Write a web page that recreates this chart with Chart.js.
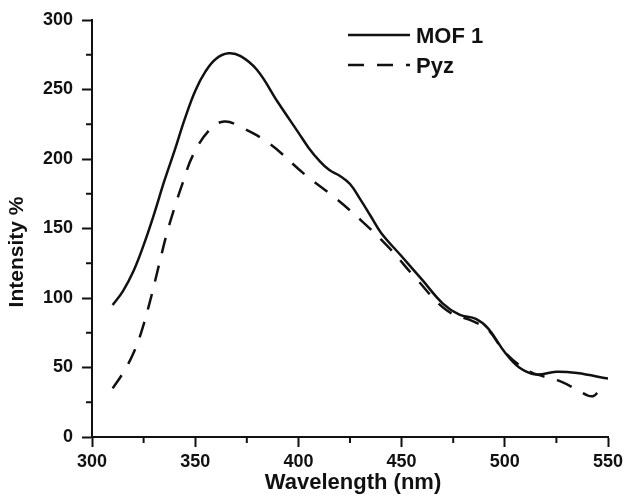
<!DOCTYPE html>
<html>
<head>
<meta charset="utf-8">
<script src="https://cdn.jsdelivr.net/npm/chart.js@4.4.1/dist/chart.umd.min.js"></script>
<style>
  html, body { margin: 0; padding: 0; background: #fff; }
</style>
</head>
<body>
<canvas id="myChart" width="630" height="502"></canvas>
<script>
// values (wavelength in nm, intensity in %)
const seriesNames = ['MOF 1', 'Pyz'];
const mofWave = [310, 315, 320, 325, 330, 335, 340, 345, 350, 355, 360, 366, 372, 380, 390, 400, 405, 410, 415, 420, 425, 430, 435, 440, 450, 460, 470, 478, 486, 492, 500, 507, 515, 525, 535, 550];
const mofIntensity = [95, 105, 119, 138, 160, 184, 206, 229, 249, 263, 272, 276, 274, 264, 241, 219, 208, 199, 192, 188, 182, 171, 159, 147, 130, 113, 96, 88, 85, 78, 61, 50, 45, 47, 46, 42];
const pyzWave = [310, 315, 320, 324, 328, 332, 336, 340, 344, 349, 357, 364, 372, 386, 403, 417, 431, 444, 457, 472, 485, 492, 500, 511, 520, 527, 535, 540, 543, 545];
const pyzIntensity = [35, 46, 60, 76, 97, 121, 145, 165, 183, 203, 221, 227, 223, 211, 189, 173, 155, 136, 114, 91, 83, 77, 61, 48, 43, 40, 34, 30, 29.5, 32];
const xTicks = [300, 350, 400, 450, 500, 550];
const yTicks = [0, 50, 100, 150, 200, 250, 300];
const xMinor = [325, 375, 425, 475, 525];
const yMinor = [25, 75, 125, 175, 225, 275];

const ink = '#111';
const dash = [16, 13];

function toPoints(xs, ys) {
    return xs.map((x, i) => ({ x: x, y: ys[i] }));
}

// short minor ticks, axis titles and the legend in the top right
const extras = {
    id: 'extras',
    afterDraw(chart) {
        const c = chart.ctx;
        const xs = chart.scales.x;
        const ys = chart.scales.y;
        const area = chart.chartArea;
        c.save();
        c.strokeStyle = ink;
        c.lineWidth = 2;
        xMinor.forEach(v => {
            const px = xs.getPixelForValue(v);
            c.beginPath(); c.moveTo(px, area.bottom); c.lineTo(px, area.bottom + 6); c.stroke();
        });
        yMinor.forEach(v => {
            const py = ys.getPixelForValue(v);
            c.beginPath(); c.moveTo(area.left - 6, py); c.lineTo(area.left, py); c.stroke();
        });

        c.fillStyle = ink;
        c.font = 'bold 22px "Liberation Sans", Arial, sans-serif';
        c.textAlign = 'center';
        c.textBaseline = 'alphabetic';
        c.fillText('Wavelength (nm)', 353, 489);

        c.save();
        c.translate(23, 252);
        c.rotate(-Math.PI / 2);
        c.font = 'bold 21px "Liberation Sans", Arial, sans-serif';
        c.fillText('Intensity %', 0, 0);
        c.restore();

        // legend
        c.font = 'bold 22px "Liberation Sans", Arial, sans-serif';
        c.textAlign = 'left';
        chart.data.datasets.forEach((ds, i) => {
            const ly = 35 + i * 30;
            c.lineWidth = ds.borderWidth;
            c.setLineDash(ds.borderDash || []);
            c.beginPath(); c.moveTo(348, ly); c.lineTo(410, ly); c.stroke();
            c.setLineDash([]);
            c.fillText(ds.label, 416, ly + 8);
        });
        c.restore();
    }
};

const chart = new Chart(document.getElementById('myChart'), {
    type: 'line',
    data: {
        datasets: [
            {
                label: seriesNames[0],
                data: toPoints(mofWave, mofIntensity),
                borderColor: ink,
                borderWidth: 2.5,
                pointRadius: 0,
                tension: 0.4,
                fill: false
            },
            {
                label: seriesNames[1],
                data: toPoints(pyzWave, pyzIntensity),
                borderColor: ink,
                borderWidth: 2.5,
                borderDash: dash,
                pointRadius: 0,
                tension: 0.4,
                fill: false
            }
        ]
    },
    options: {
        responsive: false,
        animation: false,
        layout: { padding: { top: 20, right: 22, left: 0, bottom: 0 } },
        plugins: {
            legend: { display: false },
            tooltip: { enabled: false }
        },
        scales: {
            x: {
                type: 'linear',
                min: 300,
                max: 550,
                afterFit: scale => { scale.height = 65; },
                afterBuildTicks: scale => { scale.ticks = xTicks.map(v => ({ value: v })); },
                grid: { drawOnChartArea: false, tickLength: 10, tickWidth: 2, tickColor: ink },
                border: { color: ink, width: 2 },
                ticks: {
                    color: ink,
                    padding: 4,
                    maxRotation: 0,
                    autoSkip: false,
                    font: { family: '"Liberation Sans", Arial, sans-serif', size: 18, weight: 'bold' }
                }
            },
            y: {
                min: 0,
                max: 300,
                afterFit: scale => { scale.width = 92; },
                afterBuildTicks: scale => { scale.ticks = yTicks.map(v => ({ value: v })); },
                grid: { drawOnChartArea: false, tickLength: 10, tickWidth: 2, tickColor: ink },
                border: { color: ink, width: 2 },
                ticks: {
                    color: ink,
                    padding: 9,
                    autoSkip: false,
                    font: { family: '"Liberation Sans", Arial, sans-serif', size: 18, weight: 'bold' }
                }
            }
        }
    },
    plugins: [extras]
});
</script>
</body>
</html>
